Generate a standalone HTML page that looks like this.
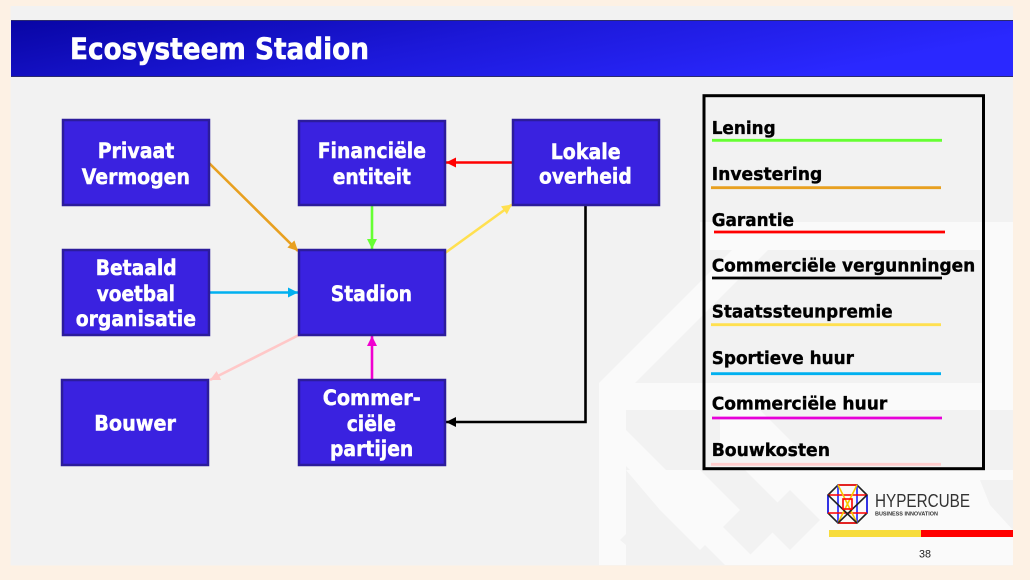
<!DOCTYPE html>
<html><head><meta charset="utf-8"><style>
html,body{margin:0;padding:0;width:1030px;height:580px;overflow:hidden;background:#fdf1e4;}
svg{display:block;}
.bx{fill:#3a22e0;stroke:#2c1c9c;stroke-width:2.5;}
.bt{font-family:"DejaVu Sans","Liberation Sans",sans-serif;font-weight:bold;font-size:21px;fill:#fff;stroke:#fff;stroke-width:0.45;}
.lt{font-family:"DejaVu Sans","Liberation Sans",sans-serif;font-weight:bold;font-size:18px;fill:#000;stroke:#000;stroke-width:0.35;}
</style></head><body>
<svg width="1030" height="580" viewBox="0 0 1030 580" xmlns="http://www.w3.org/2000/svg">
<defs>
<linearGradient id="tg" x1="0" y1="0" x2="1" y2="0.3">
<stop offset="0" stop-color="#0805a4"/><stop offset="0.5" stop-color="#1c18d8"/><stop offset="1" stop-color="#2a28ff"/>
</linearGradient>
<marker id="mO" markerUnits="userSpaceOnUse" markerWidth="12" markerHeight="12" refX="10" refY="5" orient="auto"><path d="M0,0 L10,5 L0,10 z" fill="#e8a020"/></marker>
<marker id="mG" markerUnits="userSpaceOnUse" markerWidth="12" markerHeight="12" refX="10" refY="5" orient="auto"><path d="M0,0 L10,5 L0,10 z" fill="#66ff33"/></marker>
<marker id="mR" markerUnits="userSpaceOnUse" markerWidth="12" markerHeight="12" refX="10" refY="5" orient="auto"><path d="M0,0 L10,5 L0,10 z" fill="#ff0000"/></marker>
<marker id="mY" markerUnits="userSpaceOnUse" markerWidth="12" markerHeight="12" refX="10" refY="5" orient="auto"><path d="M0,0 L10,5 L0,10 z" fill="#ffe050"/></marker>
<marker id="mC" markerUnits="userSpaceOnUse" markerWidth="12" markerHeight="12" refX="10" refY="5" orient="auto"><path d="M0,0 L10,5 L0,10 z" fill="#00b0f0"/></marker>
<marker id="mP" markerUnits="userSpaceOnUse" markerWidth="12" markerHeight="12" refX="10" refY="5" orient="auto"><path d="M0,0 L10,5 L0,10 z" fill="#ffc8c8"/></marker>
<marker id="mM" markerUnits="userSpaceOnUse" markerWidth="12" markerHeight="12" refX="10" refY="5" orient="auto"><path d="M0,0 L10,5 L0,10 z" fill="#f000d0"/></marker>
<marker id="mK" markerUnits="userSpaceOnUse" markerWidth="12" markerHeight="12" refX="10" refY="5" orient="auto"><path d="M0,0 L10,5 L0,10 z" fill="#000"/></marker>
</defs>

<!-- slide -->
<rect x="10.5" y="6" width="1002.5" height="559.5" fill="#f2f2f2"/>

<!-- background pattern -->
<g fill="#fafafa">
<rect x="599" y="383" width="414" height="27"/>
<rect x="599" y="383" width="27" height="182"/>
<polygon points="599,383 760,222 796,222 635,383"/>
<rect x="700" y="222" width="313" height="28"/>
<polygon points="626,430 761,565 725,565 626,466"/>
<polygon points="626,470 700,470 740,510 700,550 660,510"/>
<polygon points="700,470 1013,470 1013,565 740,565 790,515 745,470"/>
<polygon points="985,250 1013,250 1013,383 985,383"/>
<polygon points="720,410 760,410 800,450 720,450"/>
</g>
<g fill="#f2f2f2">
<polygon points="760,520 790,490 820,520 790,550"/>
<polygon points="980,480 1013,480 1013,530 990,505"/>
<polygon points="620,540 650,510 680,540 650,565"/>
</g>

<!-- title bar -->
<rect x="11" y="20" width="1002" height="57" fill="url(#tg)"/>
<line x1="11" y1="20.5" x2="1013" y2="20.5" stroke="#2a2a70" stroke-width="1"/>
<line x1="11" y1="76.5" x2="1013" y2="76.5" stroke="#2a2a70" stroke-width="1"/>
<text x="70" y="59" textLength="299" lengthAdjust="spacingAndGlyphs" font-family="DejaVu Sans, Liberation Sans, sans-serif" font-weight="bold" font-size="29.5" fill="#fff" stroke="#fff" stroke-width="0.6">Ecosysteem Stadion</text>

<!-- connectors -->
<g fill="none" stroke-width="2.6">
<line x1="209" y1="163" x2="298" y2="251" stroke="#e8a020" marker-end="url(#mO)"/>
<line x1="372" y1="206" x2="372" y2="249" stroke="#66ff33" marker-end="url(#mG)"/>
<line x1="512" y1="162.5" x2="446" y2="162.5" stroke="#ff0000" marker-end="url(#mR)"/>
<line x1="445" y1="253" x2="512" y2="204.5" stroke="#ffe050" marker-end="url(#mY)"/>
<line x1="210" y1="292.5" x2="298" y2="292.5" stroke="#00b0f0" marker-end="url(#mC)"/>
<line x1="299" y1="335" x2="210" y2="380" stroke="#ffc8c8" marker-end="url(#mP)"/>
<line x1="372" y1="379" x2="372" y2="336" stroke="#f000d0" marker-end="url(#mM)"/>
<polyline points="585.5,206 585.5,422 446,422" stroke="#000" marker-end="url(#mK)"/>
</g>

<!-- boxes -->
<rect class="bx" x="63" y="120" width="146" height="85"/>
<rect class="bx" x="299" y="121" width="146" height="84"/>
<rect class="bx" x="513" y="120" width="146" height="85"/>
<rect class="bx" x="63" y="250" width="146" height="85"/>
<rect class="bx" x="299" y="250" width="146" height="85"/>
<rect class="bx" x="62" y="380" width="146" height="85"/>
<rect class="bx" x="299" y="380" width="146" height="85"/>

<text class="bt" x="97.7" y="158" textLength="76.6" lengthAdjust="spacingAndGlyphs">Privaat</text>
<text class="bt" x="81.7" y="184" textLength="108.3" lengthAdjust="spacingAndGlyphs">Vermogen</text>
<text class="bt" x="317.7" y="158" textLength="108.3" lengthAdjust="spacingAndGlyphs">Financiële</text>
<text class="bt" x="332.7" y="184" textLength="78.3" lengthAdjust="spacingAndGlyphs">entiteit</text>
<text class="bt" x="550.7" y="159" textLength="70" lengthAdjust="spacingAndGlyphs">Lokale</text>
<text class="bt" x="539" y="183.5" textLength="92.7" lengthAdjust="spacingAndGlyphs">overheid</text>
<text class="bt" x="95.7" y="275" textLength="81" lengthAdjust="spacingAndGlyphs">Betaald</text>
<text class="bt" x="96.7" y="301" textLength="78.3" lengthAdjust="spacingAndGlyphs">voetbal</text>
<text class="bt" x="75.7" y="326" textLength="120.3" lengthAdjust="spacingAndGlyphs">organisatie</text>
<text class="bt" x="330.7" y="301" textLength="81.3" lengthAdjust="spacingAndGlyphs">Stadion</text>
<text class="bt" x="94.3" y="430.7" textLength="81.7" lengthAdjust="spacingAndGlyphs">Bouwer</text>
<text class="bt" x="322.7" y="405" textLength="98" lengthAdjust="spacingAndGlyphs">Commer-</text>
<text class="bt" x="346.7" y="431" textLength="49.3" lengthAdjust="spacingAndGlyphs">ciële</text>
<text class="bt" x="330" y="456" textLength="83.3" lengthAdjust="spacingAndGlyphs">partijen</text>

<!-- legend -->
<rect x="704" y="95.7" width="279.5" height="373" fill="none" stroke="#000" stroke-width="3"/>
<g stroke-width="2.8">
<line x1="712" y1="140.3" x2="942" y2="140.3" stroke="#66ff33"/>
<line x1="711" y1="187.7" x2="941" y2="187.7" stroke="#e8a020"/>
<line x1="714" y1="232" x2="945" y2="232" stroke="#ff0000"/>
<line x1="712" y1="278" x2="942" y2="278" stroke="#000"/>
<line x1="711" y1="324.7" x2="941" y2="324.7" stroke="#ffe050"/>
<line x1="711" y1="373.7" x2="941" y2="373.7" stroke="#00b0f0"/>
<line x1="712" y1="418" x2="942" y2="418" stroke="#e600d8"/>
<line x1="711" y1="464.3" x2="941" y2="464.3" stroke="#ffcccc"/>
</g>
<text class="lt" x="711.7" y="134" textLength="64" lengthAdjust="spacingAndGlyphs">Lening</text>
<text class="lt" x="711.7" y="180" textLength="110.6" lengthAdjust="spacingAndGlyphs">Investering</text>
<text class="lt" x="711.7" y="226" textLength="82.3" lengthAdjust="spacingAndGlyphs">Garantie</text>
<text class="lt" x="711.7" y="271.7" textLength="263.6" lengthAdjust="spacingAndGlyphs">Commerciële vergunningen</text>
<text class="lt" x="711.7" y="317.7" textLength="181" lengthAdjust="spacingAndGlyphs">Staatssteunpremie</text>
<text class="lt" x="711.7" y="364" textLength="142.3" lengthAdjust="spacingAndGlyphs">Sportieve huur</text>
<text class="lt" x="711.7" y="409.3" textLength="175.6" lengthAdjust="spacingAndGlyphs">Commerciële huur</text>
<text class="lt" x="711.7" y="456" textLength="118.3" lengthAdjust="spacingAndGlyphs">Bouwkosten</text>

<!-- logo -->
<g fill="none" stroke-width="1.6">
<polygon points="838,485 857,485 867,495 867,513 857,523 838,523 828,513 828,495" stroke="#222"/>
<line x1="838" y1="485" x2="857" y2="485" stroke="#ff0000"/>
<line x1="838" y1="523" x2="857" y2="523" stroke="#ff0000"/>
<line x1="828" y1="495" x2="828" y2="513" stroke="#2020ff"/>
<line x1="867" y1="495" x2="867" y2="513" stroke="#2020ff"/>
<line x1="838" y1="485" x2="838" y2="523" stroke="#2020ff"/>
<line x1="857" y1="485" x2="857" y2="523" stroke="#2020ff"/>
<line x1="828" y1="495" x2="867" y2="495" stroke="#ff0000"/>
<line x1="828" y1="513" x2="867" y2="513" stroke="#ff0000"/>
<line x1="838" y1="485" x2="857" y2="523" stroke="#f5c800"/>
<line x1="857" y1="485" x2="838" y2="523" stroke="#f5c800"/>
<line x1="828" y1="495" x2="857" y2="523" stroke="#222"/>
<line x1="867" y1="495" x2="838" y2="523" stroke="#222"/>
<rect x="843" y="499" width="9" height="10" stroke="#ff0000"/>
</g>
<text x="875" y="507" textLength="95" lengthAdjust="spacingAndGlyphs" font-family="Liberation Sans, DejaVu Sans, sans-serif" font-size="18" fill="#333">HYPERCUBE</text>
<text x="875" y="515.5" textLength="63" lengthAdjust="spacingAndGlyphs" font-family="Liberation Sans, DejaVu Sans, sans-serif" font-weight="bold" font-size="5.5" fill="#333">BUSINESS INNOVATION</text>
<rect x="829" y="530" width="92" height="7" fill="#f7dc3c"/>
<rect x="921" y="530" width="92" height="7" fill="#ff0000"/>
<text x="919" y="557.5" textLength="12" lengthAdjust="spacingAndGlyphs" font-family="Liberation Sans, DejaVu Sans, sans-serif" font-size="11" fill="#222">38</text>
</svg>
</body></html>
